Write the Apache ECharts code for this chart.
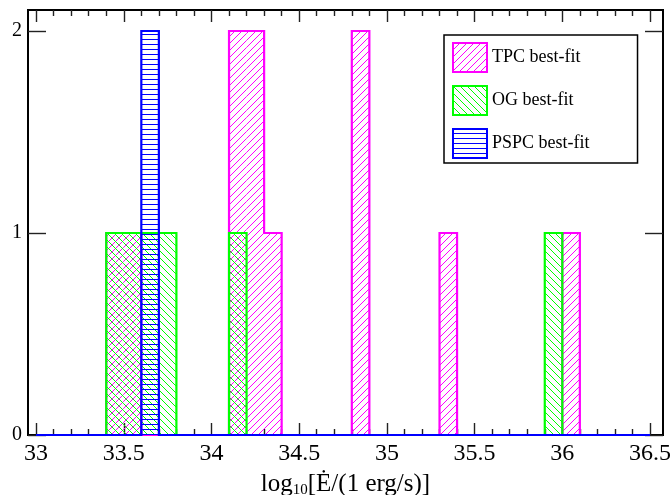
<!DOCTYPE html>
<html><head><meta charset="utf-8">
<script src="https://cdn.jsdelivr.net/npm/echarts@6/dist/echarts.min.js"></script>
<style>html,body{margin:0;padding:0;background:#fff}#c{width:670px;height:495px}</style>
</head><body><div id="c"></div>
<script>
// ---- data ----
const binWidth = 0.1;
const histStart = 33;
const histEnd = 36.5;
const tpcBins = [33.4, 33.5, 34.1, 34.2, 34.3, 34.8, 35.3, 36.0];
const tpcCounts = [1, 1, 2, 2, 1, 2, 1, 1];
const ogBins = [33.4, 33.5, 33.6, 33.7, 34.1, 35.9];
const ogCounts = [1, 1, 1, 1, 1, 1];
const pspcBins = [33.6];
const pspcCounts = [2];
const seriesNames = ['TPC best-fit', 'OG best-fit', 'PSPC best-fit'];
const xMajorTicks = [33, 33.5, 34, 34.5, 35, 35.5, 36, 36.5];
const xMinorTicks = [33.1, 33.2, 33.3, 33.4, 33.6, 33.7, 33.8, 33.9,
  34.1, 34.2, 34.3, 34.4, 34.6, 34.7, 34.8, 34.9,
  35.1, 35.2, 35.3, 35.4, 35.6, 35.7, 35.8, 35.9,
  36.1, 36.2, 36.3, 36.4];
const yTicks = [0, 1, 2];
const xRange = [32.954, 36.574];
const yRange = [0, 2.104];

// ---- styling helpers ----
const FONT = "'Liberation Serif', 'Times New Roman', serif";
const colors = ['#ff00ff', '#00ff00', '#0000ff'];

function hatchCanvas(color, type, size) {
  const c = document.createElement('canvas');
  c.width = size; c.height = size;
  const ctx = c.getContext('2d');
  ctx.fillStyle = color;
  if (type === '/') { for (let i = 0; i < size; i++) ctx.fillRect(i, size - 1 - i, 1, 1); }
  else if (type === '\\') { for (let i = 0; i < size; i++) ctx.fillRect(i, i, 1, 1); }
  else { ctx.fillRect(0, size - 1, size, 1); }
  return { image: c, repeat: 'repeat' };
}
const patterns = [
  hatchCanvas(colors[0], '/', 7),
  hatchCanvas(colors[1], '\\', 7),
  hatchCanvas(colors[2], '-', 5)
];

function stepOutline(bins, counts) {
  const pts = [[histStart, 0]];
  let lastX = histStart, lastH = 0;
  bins.forEach((b, i) => {
    const h = counts[i];
    if (b - lastX > 1e-9 && lastH !== 0) { pts.push([lastX, 0]); lastH = 0; }
    pts.push([b, lastH]);
    pts.push([b, h]);
    pts.push([b + binWidth, h]);
    lastX = b + binWidth; lastH = h;
  });
  pts.push([lastX, 0]);
  pts.push([histEnd, 0]);
  return pts;
}

function makeSeries(idx, bins, counts) {
  return {
    type: 'custom',
    name: seriesNames[idx],
    z: 2 + idx,
    clip: false,
    itemStyle: { color: patterns[idx], borderColor: colors[idx], borderWidth: 2 },
    data: bins.map((b, i) => [b, counts[i]]),
    renderItem: function (params, api) {
      const x0 = api.value(0), h = api.value(1);
      const p0 = api.coord([x0, 0]);
      const p1 = api.coord([x0 + binWidth, h]);
      const children = [{
        type: 'rect',
        shape: { x: p0[0], y: p1[1], width: p1[0] - p0[0], height: p0[1] - p1[1] },
        style: { fill: patterns[idx] },
        z2: 1
      }];
      if (params.dataIndex === 0) {
        children.push({
          type: 'polyline',
          shape: { points: stepOutline(bins, counts).map(p => api.coord(p)) },
          style: { stroke: colors[idx], lineWidth: 2.2, fill: null, lineJoin: 'miter' },
          z2: 5
        });
      }
      return { type: 'group', children: children };
    }
  };
}

const tickLine = { color: '#222', width: 1.4 };
function xAxisDef(position, values, len, withLabels) {
  const a = {
    type: 'value', position: position, min: xRange[0], max: xRange[1],
    axisLine: { show: false },
    splitLine: { show: false },
    axisTick: { show: true, inside: true, length: len, customValues: values, lineStyle: tickLine },
    axisLabel: { show: false }
  };
  if (withLabels) {
    a.axisLabel = { show: true, customValues: values, fontFamily: FONT, fontSize: 24, color: '#000', margin: 7,
      formatter: v => String(v) };
    a.name = '{a|log}{b|10}{a|[Ė/(1 erg/s)]}';
    a.nameLocation = 'middle';
    a.nameGap = 35;
    a.nameTextStyle = {
      rich: {
        a: { fontFamily: FONT, fontSize: 25, color: '#000' },
        b: { fontFamily: FONT, fontSize: 15, color: '#000', padding: [13, 0, 0, 0] }
      }
    };
  }
  return a;
}
function yAxisDef(position, withLabels) {
  return {
    type: 'value', position: position, min: yRange[0], max: yRange[1],
    axisLine: { show: false },
    splitLine: { show: false },
    axisTick: { show: true, inside: true, length: 18, customValues: yTicks, lineStyle: tickLine },
    axisLabel: withLabels ? { show: true, customValues: yTicks, fontFamily: FONT, fontSize: 20, color: '#000', margin: 6 } : { show: false }
  };
}

const chart = echarts.init(document.getElementById('c'), null, { renderer: 'canvas' });
chart.setOption({
  animation: false,
  backgroundColor: '#fff',
  grid: { left: 28, right: 7, top: 10, bottom: 60, show: true, borderColor: '#000', borderWidth: 2, backgroundColor: 'transparent',
    containLabel: false, outerBoundsMode: 'none' },
  xAxis: [
    xAxisDef('bottom', xMajorTicks, 12, true),
    xAxisDef('bottom', xMinorTicks, 6, false),
    xAxisDef('top', xMajorTicks, 12, false),
    xAxisDef('top', xMinorTicks, 6, false)
  ],
  yAxis: [yAxisDef('left', true), yAxisDef('right', false)],
  legend: {
    orient: 'vertical', left: 444, top: 35,
    padding: [7, 48, 4, 8],
    itemWidth: 34, itemHeight: 29, itemGap: 12,
    borderColor: '#000', borderWidth: 1.5, backgroundColor: '#fff',
    textStyle: { fontFamily: FONT, fontSize: 18, color: '#000' },
    selectedMode: false,
    data: seriesNames.map((n, i) => ({
      name: n, icon: 'rect',
      itemStyle: { color: patterns[i], borderColor: colors[i], borderWidth: 2 }
    }))
  },
  series: [
    makeSeries(0, tpcBins, tpcCounts),
    makeSeries(1, ogBins, ogCounts),
    makeSeries(2, pspcBins, pspcCounts)
  ]
});
</script>
</body></html>
